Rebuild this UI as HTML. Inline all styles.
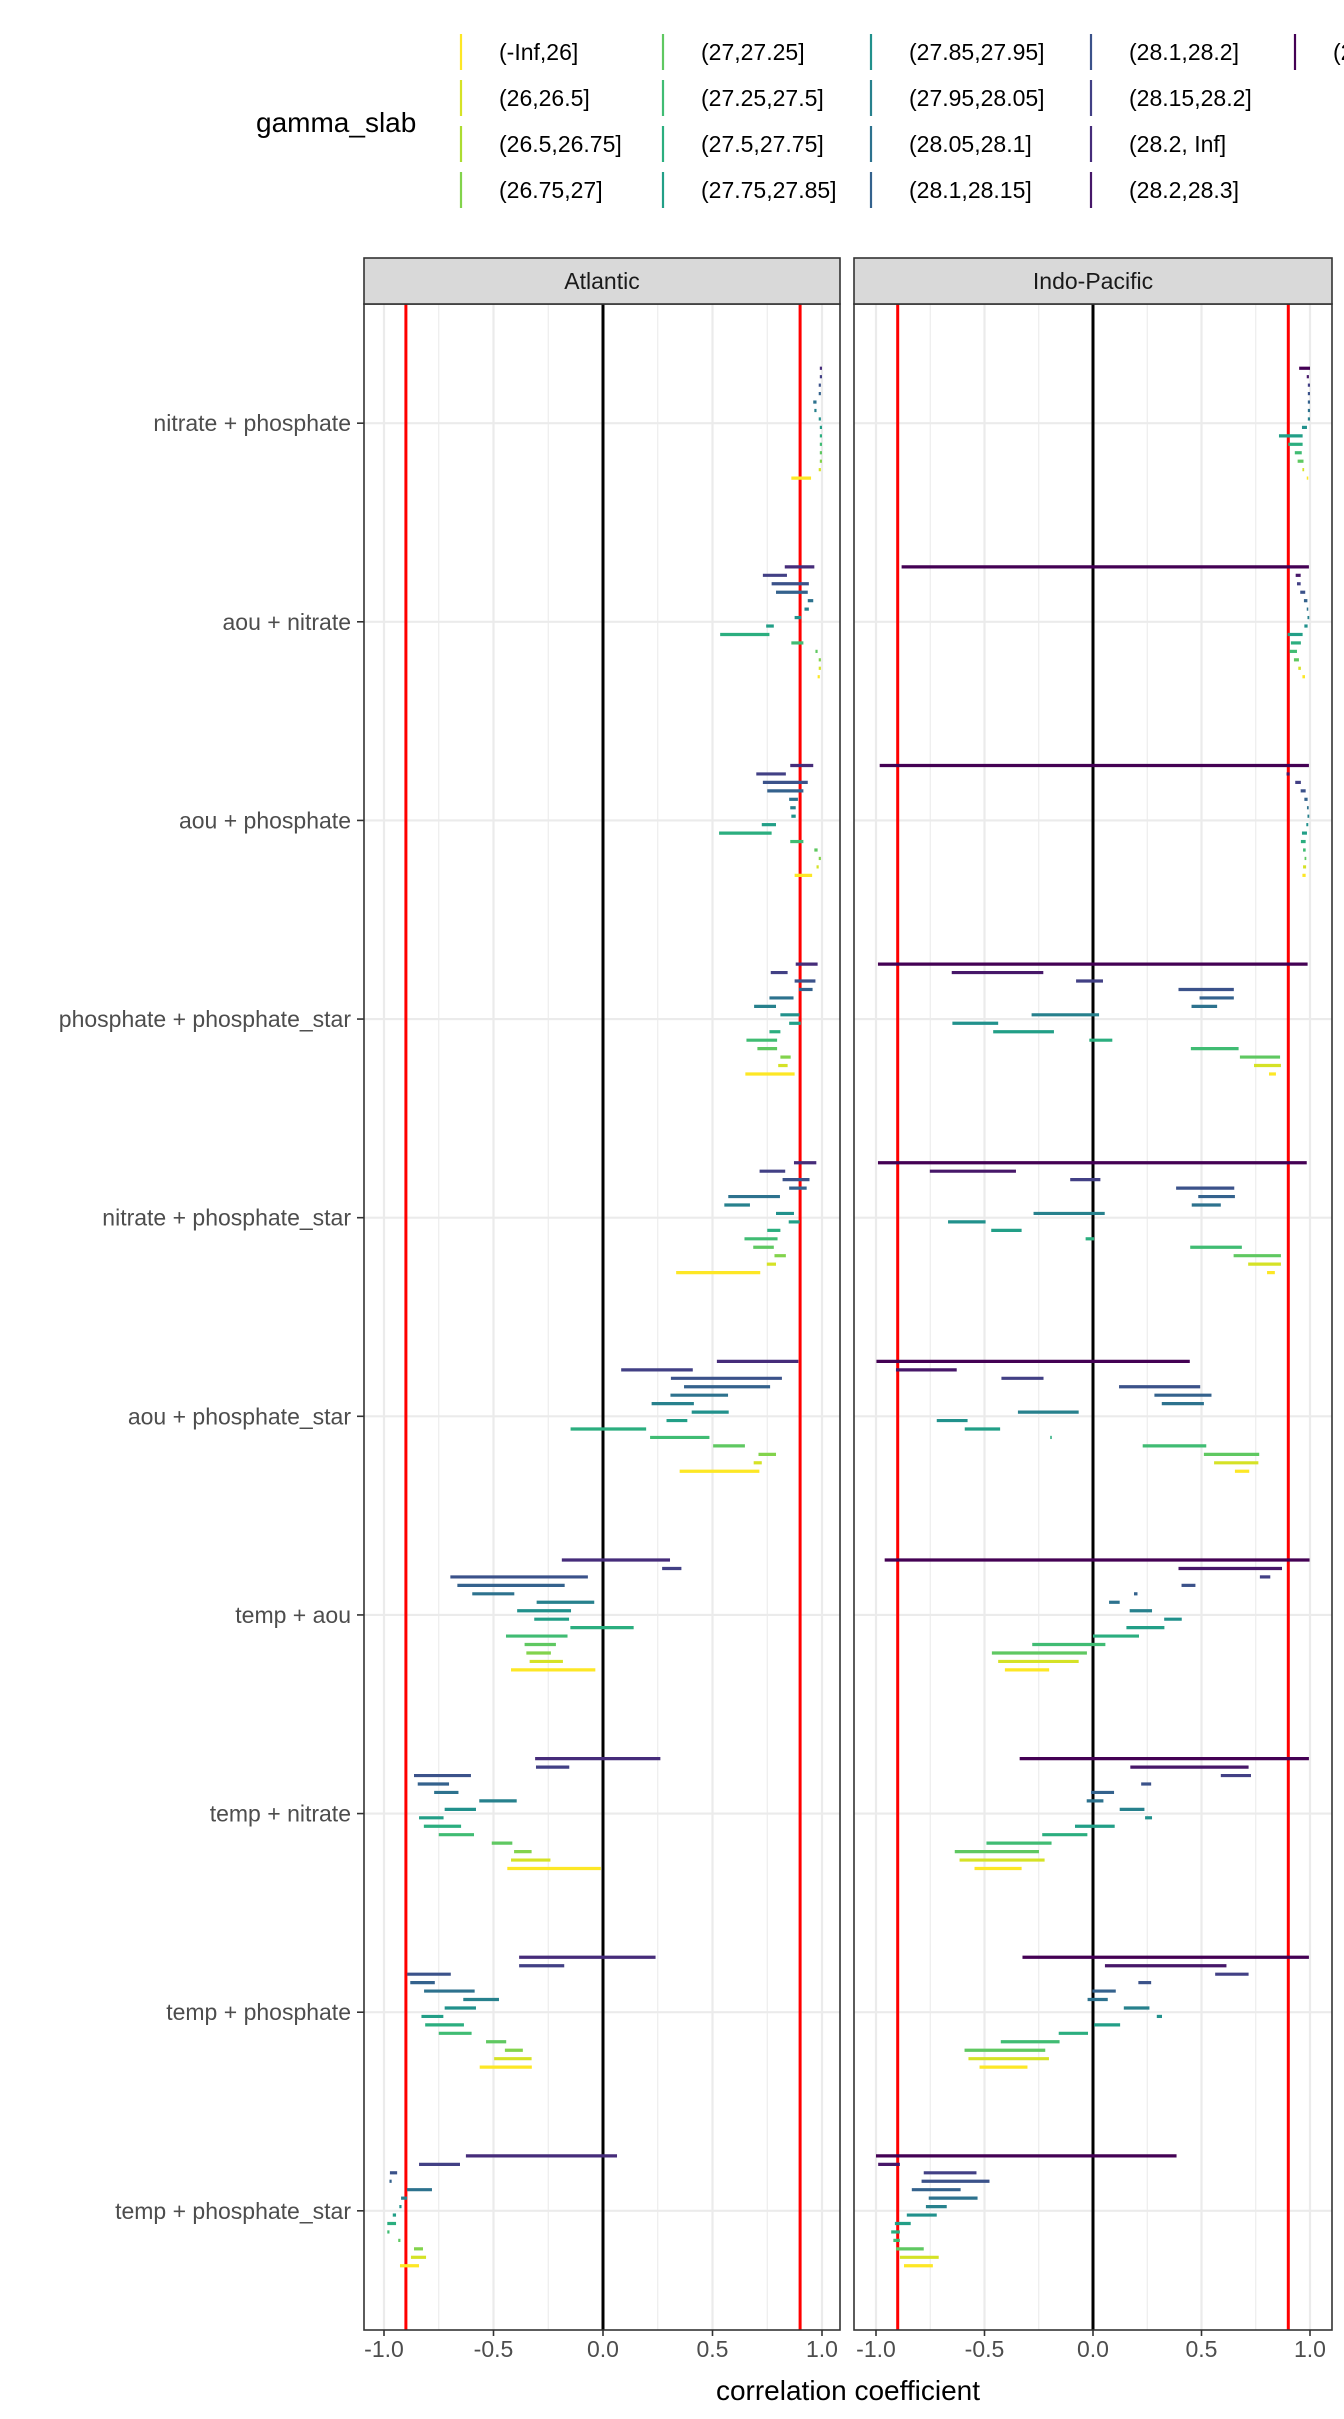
<!DOCTYPE html>
<html><head><meta charset="utf-8"><style>
html,body{margin:0;padding:0;background:#fff;width:1344px;height:2419px;overflow:hidden}
svg{display:block}
text{font-family:"Liberation Sans",Arial,sans-serif}
</style></head><body>
<svg id="chart" width="1344" height="2419" viewBox="0 0 1344 2419" xmlns="http://www.w3.org/2000/svg"></svg>
<script>
const categories=["nitrate + phosphate","aou + nitrate","aou + phosphate","phosphate + phosphate_star","nitrate + phosphate_star","aou + phosphate_star","temp + aou","temp + nitrate","temp + phosphate","temp + phosphate_star"];
const legendLabels=["(-Inf,26]","(26,26.5]","(26.5,26.75]","(26.75,27]","(27,27.25]","(27.25,27.5]","(27.5,27.75]","(27.75,27.85]","(27.85,27.95]","(27.95,28.05]","(28.05,28.1]","(28.1,28.15]","(28.1,28.2]","(28.15,28.2]","(28.2, Inf]","(28.2,28.3]","(28.3, Inf]"];
const xTicks=[-1,-0.5,0,0.5,1];
const xTickLabels=["-1.0","-0.5","0.0","0.5","1.0"];
const atlLevels=[14,13,12,11,10,9,8,7,6,5,4,3,1,0];
const indLevels=[16,15,13,12,11,10,9,8,7,6,5,4,1,0];
const atlLo=[
[0.99,0.99,0.985,0.985,0.96,0.965,0.985,0.99,0.99,0.99,0.99,0.99,0.985,0.86],
[0.83,0.73,0.77,0.79,0.935,0.92,0.875,0.745,0.535,0.86,0.97,0.985,0.985,0.98],
[0.855,0.70,0.73,0.75,0.85,0.855,0.86,0.725,0.53,0.855,0.965,0.985,0.975,0.875],
[0.88,0.766,0.875,0.895,0.76,0.69,0.81,0.85,0.76,0.655,0.705,0.81,0.80,0.65],
[0.872,0.715,0.82,0.85,0.572,0.554,0.79,0.848,0.75,0.646,0.686,0.783,0.748,0.334],
[0.52,0.083,0.31,0.37,0.308,0.222,0.405,0.29,-0.148,0.215,0.503,0.71,0.688,0.35],
[-0.188,0.27,-0.697,-0.665,-0.597,-0.303,-0.392,-0.314,-0.149,-0.443,-0.358,-0.35,-0.335,-0.42],
[-0.31,-0.306,-0.863,-0.846,-0.771,-0.565,-0.723,-0.84,-0.818,-0.75,-0.508,-0.406,-0.42,-0.437],
[-0.383,-0.383,-0.894,-0.88,-0.817,-0.638,-0.723,-0.829,-0.812,-0.75,-0.534,-0.448,-0.497,-0.563],
[-0.626,-0.84,-0.973,-0.975,-0.895,-0.922,-0.93,-0.96,-0.985,-0.985,-0.935,-0.863,-0.877,-0.927]];
const atlHi=[
[1.0,1.0,0.995,0.995,0.975,0.975,0.995,1.0,1.0,1.0,1.0,1.0,0.995,0.95],
[0.965,0.84,0.94,0.935,0.96,0.94,0.905,0.78,0.76,0.915,0.98,0.995,0.995,0.99],
[0.96,0.835,0.935,0.915,0.89,0.88,0.88,0.79,0.77,0.915,0.98,0.995,0.985,0.955],
[0.98,0.843,0.97,0.957,0.87,0.79,0.897,0.903,0.81,0.795,0.795,0.857,0.843,0.875],
[0.974,0.832,0.943,0.93,0.808,0.671,0.872,0.898,0.81,0.797,0.78,0.835,0.79,0.718],
[0.892,0.41,0.817,0.763,0.571,0.415,0.574,0.385,0.197,0.486,0.648,0.79,0.725,0.714],
[0.306,0.358,-0.069,-0.175,-0.405,-0.04,-0.146,-0.155,0.14,-0.162,-0.215,-0.238,-0.183,-0.035],
[0.262,-0.154,-0.603,-0.703,-0.66,-0.394,-0.58,-0.728,-0.648,-0.589,-0.414,-0.326,-0.24,-0.01],
[0.24,-0.177,-0.695,-0.768,-0.586,-0.475,-0.58,-0.729,-0.635,-0.6,-0.442,-0.366,-0.326,-0.325],
[0.064,-0.653,-0.94,-0.965,-0.781,-0.895,-0.92,-0.945,-0.945,-0.975,-0.925,-0.822,-0.808,-0.84]];
const indLo=[
[0.95,0.985,0.99,0.99,0.99,0.99,0.99,0.963,0.857,0.9,0.93,0.943,0.965,0.985],
[-0.882,0.934,0.94,0.955,0.972,0.985,0.99,0.974,0.897,0.912,0.906,0.926,0.946,0.965],
[-0.983,0.892,0.932,0.957,0.974,0.986,0.99,0.983,0.963,0.958,0.968,0.975,0.968,0.965],
[-0.991,-0.651,-0.078,0.394,0.491,0.454,-0.283,-0.648,-0.46,-0.017,0.451,0.677,0.742,0.811],
[-0.991,-0.752,-0.105,0.383,0.485,0.455,-0.274,-0.668,-0.469,-0.034,0.448,0.648,0.715,0.802],
[-0.998,-0.908,-0.422,0.12,0.283,0.317,-0.346,-0.72,-0.591,-0.197,0.229,0.511,0.558,0.654],
[-0.96,0.394,0.769,0.408,0.189,0.074,0.169,0.328,0.154,0.0,-0.28,-0.466,-0.437,-0.406],
[-0.338,0.172,0.589,0.222,-0.009,-0.029,0.123,0.24,-0.083,-0.234,-0.491,-0.637,-0.615,-0.546],
[-0.325,0.055,0.563,0.209,-0.003,-0.025,0.142,0.294,0.005,-0.158,-0.425,-0.592,-0.574,-0.523],
[-1.0,-0.99,-0.78,-0.79,-0.835,-0.757,-0.77,-0.858,-0.913,-0.93,-0.92,-0.908,-0.89,-0.871]];
const indHi=[
[1.0,0.995,1.0,1.0,1.0,1.0,1.0,0.986,0.966,0.966,0.962,0.97,0.973,0.992],
[0.995,0.957,0.957,0.978,0.988,0.992,0.995,0.989,0.966,0.958,0.94,0.949,0.958,0.977],
[0.995,0.906,0.958,0.98,0.989,0.994,0.995,0.992,0.986,0.98,0.98,0.983,0.982,0.98],
[0.989,-0.229,0.046,0.649,0.649,0.572,0.028,-0.437,-0.18,0.089,0.671,0.862,0.866,0.843],
[0.985,-0.355,0.034,0.651,0.654,0.589,0.054,-0.495,-0.329,0.005,0.686,0.866,0.866,0.838],
[0.446,-0.628,-0.228,0.494,0.546,0.511,-0.066,-0.578,-0.428,-0.19,0.522,0.766,0.762,0.72],
[0.998,0.871,0.817,0.472,0.205,0.123,0.272,0.409,0.329,0.212,0.057,-0.028,-0.066,-0.202],
[0.995,0.717,0.728,0.268,0.097,0.048,0.237,0.272,0.1,-0.026,-0.191,-0.249,-0.223,-0.329],
[0.995,0.615,0.717,0.268,0.105,0.068,0.26,0.318,0.125,-0.023,-0.154,-0.22,-0.203,-0.302],
[0.385,-0.89,-0.537,-0.477,-0.61,-0.532,-0.674,-0.72,-0.84,-0.89,-0.89,-0.78,-0.711,-0.738]];

const NS="http://www.w3.org/2000/svg";
const svg=document.getElementById('chart');
function mk(tag,attrs,parent,txt){const e=document.createElementNS(NS,tag);for(const k in attrs)e.setAttribute(k,attrs[k]);if(txt!==undefined)e.textContent=txt;(parent||svg).appendChild(e);return e;}
const VIR=[[68,1,84],[72,36,117],[65,68,135],[53,95,141],[42,120,142],[33,145,140],[34,168,132],[68,191,112],[122,209,81],[189,223,38],[253,231,37]];
function viridis(t){t=Math.max(0,Math.min(1,t));const p=t*(VIR.length-1);const i=Math.min(Math.floor(p),VIR.length-2);const f=p-i;const c=VIR[i].map((v,j)=>Math.round(v+(VIR[i+1][j]-v)*f));return `rgb(${c[0]},${c[1]},${c[2]})`;}
function levelColor(j){return viridis(1-j/16);}

const PT=304,PB=2330;
const yUnit=(PB-PT)/10.2;
function yCat(i){return PT+(0.6+i)*yUnit;}
const slot=8.45;
const panels=[
 {name:"Atlantic",x0:364,x1:840,c:603,s:219,lo:atlLo,hi:atlHi,lv:atlLevels,id:"atlantic"},
 {name:"Indo-Pacific",x0:854,x1:1332,c:1093,s:217,lo:indLo,hi:indHi,lv:indLevels,id:"indo-pacific"}];

const lg=mk('g',{});


const lt=mk('text',{x:256,y:132,'font-size':28,fill:'#000'},lg,'gamma_slab');


const colKeyX=[461,663,871,1091,1295];
const rowY=[52,98,144,190];
legendLabels.forEach((lab,j)=>{
  const col=Math.floor(j/4),row=j%4;
  const g=mk('g',{},lg);
  
  
  mk('line',{x1:colKeyX[col],x2:colKeyX[col],y1:rowY[row]-18,y2:rowY[row]+18,stroke:levelColor(j),'stroke-width':2.2},g);
  mk('text',{x:colKeyX[col]+38,y:rowY[row]+8,'font-size':23,fill:'#000'},g,lab);
});

panels.forEach(P=>{
  const g=mk('g',{});
  
  
  const X=v=>P.c+P.s*v;
  mk('rect',{x:P.x0,y:PT,width:P.x1-P.x0,height:PB-PT,fill:'#fff'},g);
  [-0.75,-0.25,0.25,0.75].forEach(v=>mk('line',{x1:X(v),x2:X(v),y1:PT,y2:PB,stroke:'#ebebeb','stroke-width':1.1},g));
  xTicks.forEach(v=>mk('line',{x1:X(v),x2:X(v),y1:PT,y2:PB,stroke:'#ebebeb','stroke-width':2.2},g));
  categories.forEach((c,i)=>mk('line',{x1:P.x0,x2:P.x1,y1:yCat(i),y2:yCat(i),stroke:'#ebebeb','stroke-width':2.2},g));
  const r1=mk('line',{x1:X(-0.9),x2:X(-0.9),y1:PT,y2:PB,stroke:'#ff0000','stroke-width':3},g);
  
  
  const r2=mk('line',{x1:X(0.9),x2:X(0.9),y1:PT,y2:PB,stroke:'#ff0000','stroke-width':3},g);
  
  
  const z=mk('line',{x1:X(0),x2:X(0),y1:PT,y2:PB,stroke:'#000','stroke-width':3},g);
  
  
  categories.forEach((c,i)=>{
    for(let k=0;k<14;k++){
      const lo=P.lo[i][k],hi=P.hi[i][k];
      const y=yCat(i)+(k-6.5)*slot;
      let x1=X(lo),x2=X(hi);
      if(x2-x1<1.5){const m=(x1+x2)/2;x1=m-0.9;x2=m+0.9;}
      const b=mk('line',{x1:x1,x2:x2,y1:y,y2:y,stroke:levelColor(P.lv[k]),'stroke-width':3.2},g);
      
      
    }
  });
  mk('rect',{x:P.x0,y:PT,width:P.x1-P.x0,height:PB-PT,fill:'none',stroke:'#333','stroke-width':1.6},g);
  const st=mk('rect',{x:P.x0,y:258,width:P.x1-P.x0,height:PT-258,fill:'#d9d9d9',stroke:'#333','stroke-width':1.6},g);
  
  
  const stt=mk('text',{x:(P.x0+P.x1)/2,y:289,'font-size':23,fill:'#1a1a1a','text-anchor':'middle'},g,P.name);
  
  
  xTicks.forEach((v,j)=>{
    mk('line',{x1:X(v),x2:X(v),y1:PB,y2:PB+6,stroke:'#333','stroke-width':1.6},g);
    const t=mk('text',{x:X(v),y:2357,'font-size':23,fill:'#4d4d4d','text-anchor':'middle'},g,xTickLabels[j]);
    
    
  });
});
categories.forEach((c,i)=>{
  mk('line',{x1:357,x2:364,y1:yCat(i),y2:yCat(i),stroke:'#333','stroke-width':1.6});
  const t=mk('text',{x:351,y:yCat(i)+8,'font-size':23,fill:'#4d4d4d','text-anchor':'end'},svg,c);
  
  
});
const xt=mk('text',{x:848,y:2400,'font-size':28,fill:'#000','text-anchor':'middle'},svg,'correlation coefficient');


</script>
</body></html>
